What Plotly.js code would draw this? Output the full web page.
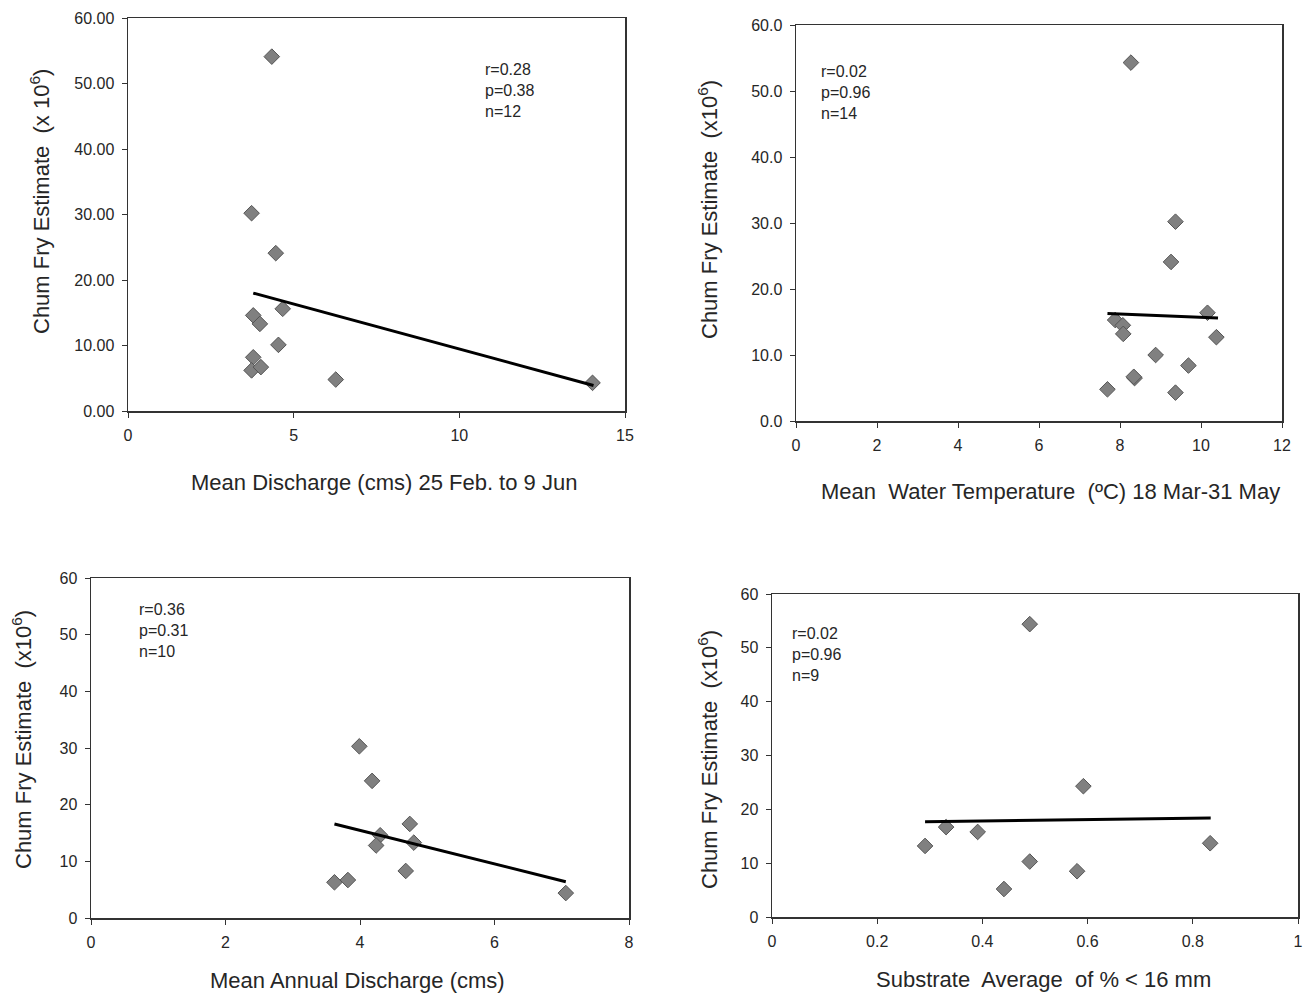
<!DOCTYPE html>
<html>
<head>
<meta charset="utf-8">
<script src="https://cdn.plot.ly/plotly-3.0.1.min.js"></script>
<style>
  html, body { margin: 0; padding: 0; background: #ffffff; }
  #chart { width: 1307px; height: 996px; }
</style>
</head>
<body>
<div id="chart"></div>
<script>
// Chum fry estimates (x10^6) against four habitat variables

// Panel A: mean discharge 25 Feb - 9 Jun
const dischargeSpring = [4.34, 3.73, 4.46, 4.67, 3.78, 3.98, 4.54, 3.78, 3.73, 4.01, 6.27, 14.02];
const fryA = [54.1, 30.2, 24.1, 15.6, 14.6, 13.3, 10.1, 8.2, 6.2, 6.7, 4.8, 4.3];
const fitAx = [3.78, 14.05];
const fitAy = [18.0, 3.9];
const statsA = ["r=0.28", "p=0.38", "n=12"];

// Panel B: mean water temperature 18 Mar - 31 May
const waterTemp = [8.27, 9.37, 9.26, 10.16, 7.88, 8.07, 8.08, 10.38, 8.88, 9.69, 8.36, 8.34, 7.69, 9.37];
const fryB = [54.3, 30.2, 24.1, 16.4, 15.3, 14.5, 13.2, 12.7, 10.0, 8.4, 6.5, 6.7, 4.8, 4.3];
const fitBx = [7.69, 10.42];
const fitBy = [16.3, 15.6];
const statsB = ["r=0.02", "p=0.96", "n=14"];

// Panel C: mean annual discharge
const dischargeAnnual = [3.99, 4.18, 4.74, 4.30, 4.24, 4.80, 4.68, 3.62, 3.82, 7.06];
const fryC = [30.3, 24.2, 16.6, 14.6, 12.8, 13.3, 8.3, 6.3, 6.7, 4.4];
const fitCx = [3.62, 7.06];
const fitCy = [16.6, 6.4];
const statsC = ["r=0.36", "p=0.31", "n=10"];

// Panel D: substrate average of % < 16 mm
const substrate = [0.490, 0.592, 0.331, 0.391, 0.291, 0.833, 0.490, 0.580, 0.441];
const fryD = [54.4, 24.3, 16.7, 15.8, 13.2, 13.7, 10.3, 8.5, 5.2];
const fitDx = [0.291, 0.834];
const fitDy = [17.7, 18.4];
const statsD = ["r=0.02", "p=0.96", "n=9"];

const xTitles = [
  "Mean Discharge (cms) 25 Feb. to 9 Jun",
  "Mean  Water Temperature  (ºC) 18 Mar-31 May",
  "Mean Annual Discharge (cms)",
  "Substrate  Average  of % < 16 mm"
];
const yTitles = [
  "Chum Fry Estimate  (x 10<sup>6</sup>)",
  "Chum Fry Estimate  (x10<sup>6</sup>)",
  "Chum Fry Estimate  (x10<sup>6</sup>)",
  "Chum Fry Estimate  (x10<sup>6</sup>)"
];

const W = 1307, H = 996;
const px = v => v / W;
const py = v => 1 - v / H;

const FONT = "Liberation Sans, Arial, sans-serif";
const ink = "#262626";

const markerStyle = {
  symbol: "diamond",
  size: 12,
  color: "#808080",
  line: { color: "#555555", width: 1 }
};

function pointTrace(x, y, k) {
  const s = k === 1 ? "" : String(k);
  return {
    type: "scatter", mode: "markers", x: x, y: y,
    xaxis: "x" + s, yaxis: "y" + s,
    marker: markerStyle, showlegend: false, hoverinfo: "x+y"
  };
}
function fitTrace(x, y, k) {
  const s = k === 1 ? "" : String(k);
  return {
    type: "scatter", mode: "lines", x: x, y: y,
    xaxis: "x" + s, yaxis: "y" + s,
    line: { color: "#000000", width: 3 }, showlegend: false, hoverinfo: "skip"
  };
}

const data = [
  pointTrace(dischargeSpring, fryA, 1), fitTrace(fitAx, fitAy, 1),
  pointTrace(waterTemp, fryB, 2), fitTrace(fitBx, fitBy, 2),
  pointTrace(dischargeAnnual, fryC, 3), fitTrace(fitCx, fitCy, 3),
  pointTrace(substrate, fryD, 4), fitTrace(fitDx, fitDy, 4)
];

function axis(domain, range, dtick, extra) {
  return Object.assign({
    domain: domain, range: range, dtick: dtick, tick0: 0,
    showgrid: false, zeroline: false,
    showline: true, linecolor: "#333333", linewidth: 1.5, mirror: true,
    ticks: "outside", ticklen: 5, tickcolor: "#333333", tickwidth: 1,
    ticklabelstandoff: 4,
    tickfont: { family: FONT, size: 16, color: ink },
    fixedrange: true
  }, extra || {});
}

// panel boxes in page pixels: [left, right, top, bottom]
const boxes = [
  [128, 625, 18, 411],
  [796, 1282, 25, 421],
  [91, 629, 578, 918],
  [772, 1298, 594, 917]
];
const dom = boxes.map(b => ({ x: [px(b[0]), px(b[1])], y: [py(b[3]), py(b[2])] }));

const layout = {
  width: W, height: H,
  margin: { l: 0, r: 0, t: 0, b: 0 },
  paper_bgcolor: "#ffffff", plot_bgcolor: "#ffffff",
  showlegend: false,
  font: { family: FONT, color: ink },
  xaxis:  axis(dom[0].x, [0, 15], 5, { anchor: "y" }),
  yaxis:  axis(dom[0].y, [0, 60], 10, { anchor: "x", tickformat: ".2f" }),
  xaxis2: axis(dom[1].x, [0, 12], 2, { anchor: "y2" }),
  yaxis2: axis(dom[1].y, [0, 60], 10, { anchor: "x2", tickformat: ".1f" }),
  xaxis3: axis(dom[2].x, [0, 8], 2, { anchor: "y3" }),
  yaxis3: axis(dom[2].y, [0, 60], 10, { anchor: "x3" }),
  xaxis4: axis(dom[3].x, [0, 1], 0.2, { anchor: "y4" }),
  yaxis4: axis(dom[3].y, [0, 60], 10, { anchor: "x4" }),
  annotations: []
};

// axis titles, placed in page pixels
const xTitlePos = [[384, 482], [1050, 491], [358, 980], [1043, 979]];
const yTitlePos = [[40, 202], [708, 210], [22, 740], [708, 760]];
xTitles.forEach((t, i) => {
  layout.annotations.push({
    xref: "paper", yref: "paper", x: px(xTitlePos[i][0]), y: py(xTitlePos[i][1]),
    xanchor: "center", yanchor: "middle", showarrow: false, text: t,
    font: { family: FONT, size: 22, color: ink }
  });
});
yTitles.forEach((t, i) => {
  layout.annotations.push({
    xref: "paper", yref: "paper", x: px(yTitlePos[i][0]), y: py(yTitlePos[i][1]),
    xanchor: "center", yanchor: "middle", showarrow: false, text: t, textangle: -90,
    font: { family: FONT, size: 22, color: ink }
  });
});

// correlation statistics in each panel
const statSets = [statsA, statsB, statsC, statsD];
const statPos = [[483, 59], [819, 61], [137, 599], [790, 623]];
statSets.forEach((s, i) => {
  layout.annotations.push({
    xref: "paper", yref: "paper", x: px(statPos[i][0]), y: py(statPos[i][1]),
    xanchor: "left", yanchor: "top", align: "left", showarrow: false,
    text: s.join("<br>"),
    font: { family: FONT, size: 16, color: ink }
  });
});

Plotly.newPlot("chart", data, layout, { displayModeBar: false, staticPlot: true });
</script>
</body>
</html>
